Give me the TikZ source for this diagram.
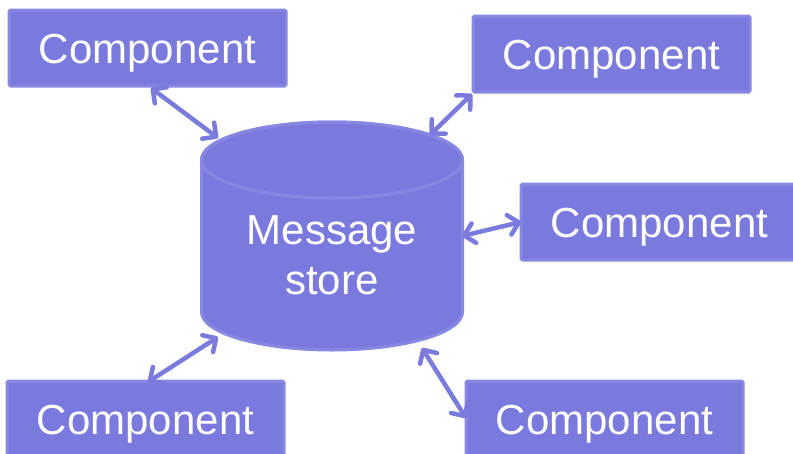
\documentclass[tikz,border=0pt]{standalone}
\usepackage{fontspec}
\setmainfont{Liberation Sans}
\usetikzlibrary{arrows.meta}
\definecolor{boxfill}{HTML}{7A7ADE}
\definecolor{boxedge}{HTML}{8888E3}
\definecolor{arrowcol}{HTML}{7B7BDD}
\tikzset{
  compbox/.style={rectangle, fill=boxfill, draw=boxedge, line width=3pt, rounded corners=1.5pt,
    minimum width=277pt, minimum height=76pt, inner sep=0pt, text height=30pt, text depth=0pt,
    text=white, font=\fontsize{42}{50}\selectfont},
  link/.style={arrowcol, line width=4.5pt, line cap=round,
    {Straight Barb[length=10pt, width=20pt, round]}-{Straight Barb[length=10pt, width=20pt, round]}},
  cyl/.style={fill=boxfill, draw=boxedge, line width=3pt},
  cyltext/.style={text=white, align=center, font=\fontsize{42}{50}\selectfont, inner sep=0pt}
}
\begin{document}
\begin{tikzpicture}[x=1pt, y=-1pt]
\useasboundingbox (0,0) rectangle (793,453);
% cylinder
\path[cyl] (201.5,160) -- (201.5,312) arc[start angle=180, end angle=0, x radius=130.5, y radius=38]
  -- (462.5,160) arc[start angle=0, end angle=-180, x radius=130.5, y radius=38] -- cycle;
\path[cyl] (332,160) ellipse[x radius=130.5, y radius=38];
\node[cyltext] (store) at (332,255) {Message\\store};
% components
\node[compbox] (tl) at (147.5,48) {Component};
\node[compbox] (tr) at (611.5,54) {Component};
\node[compbox] (r)  at (659.5,222) {Component};
\node[compbox] (bl) at (145.5,419) {Component};
\node[compbox] (br) at (604.5,419) {Component};
% connector ends
\coordinate (tlA) at (151,88);  \coordinate (tlB) at (218,138);
\coordinate (trA) at (472,94);  \coordinate (trB) at (430,135);
\coordinate (rA)  at (521,222); \coordinate (rB)  at (462,236);
\coordinate (blA) at (148,382); \coordinate (blB) at (218,337);
\coordinate (brA) at (466,418); \coordinate (brB) at (422,348);
\draw[link] (tlA) -- (tlB);
\draw[link] (trA) -- (trB);
\draw[link] (rA) -- (rB);
\draw[link] (blA) -- (blB);
\draw[link] (brA) -- (brB);
\end{tikzpicture}
\end{document}
